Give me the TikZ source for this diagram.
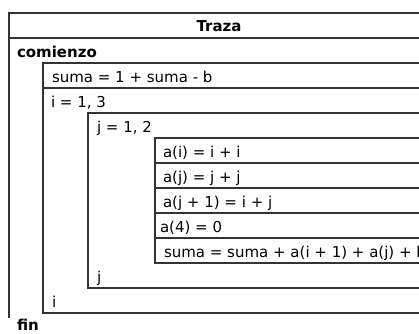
\documentclass[tikz,border=0pt]{standalone}
\usepackage{fontspec}
\setmainfont{DejaVu Sans}
\begin{document}
\begin{tikzpicture}[x=1pt,y=-1pt,
  ln/.style={draw=black!80, line width=1.1pt},
  txt/.style={anchor=base west, inner sep=0pt, outer sep=0pt, text=black, font=\fontsize{15}{18}\selectfont},
  btxt/.style={txt, font=\fontsize{15}{18}\selectfont\bfseries}]
\useasboundingbox (0,0) rectangle (419,333);
\clip (0,0) rectangle (419,333);
\fill[white] (0,0) rectangle (419,333);
% outer frame
\draw[ln] (425,13) -- (9,13) -- (9,318);
\draw[ln] (9,38) -- (425,38);
% suma box and i loop
\draw[ln] (425,63) -- (43,63) -- (43,313) -- (425,313);
\draw[ln] (43,88) -- (425,88);
% j loop
\draw[ln] (425,113) -- (88,113) -- (88,288) -- (425,288);
% inner statements
\draw[ln] (425,138) -- (155,138) -- (155,263) -- (425,263);
\draw[ln] (155,163) -- (425,163);
\draw[ln] (155,188) -- (425,188);
\draw[ln] (155,213) -- (425,213);
\draw[ln] (155,238) -- (425,238);
% texts
\node[btxt, anchor=base] (title) at (219,31) {Traza};
\node[btxt] (com) at (17,57) {comienzo};
\node[txt] (s1) at (52,82) {suma = 1 + suma - b};
\node[txt] (iloop) at (51,107) {i = 1, 3};
\node[txt] (jloop) at (97,132) {j = 1, 2};
\node[txt] (a1) at (163,157) {a(i) = i + i};
\node[txt] (a2) at (163,182) {a(j) = j + j};
\node[txt] (a3) at (163,207) {a(j + 1) = i + j};
\node[txt] (a4) at (160,232) {a(4) = 0};
\node[txt] (s2) at (164,257) {suma = suma + a(i + 1) + a(j) + b};
\node[txt] (jend) at (97,282) {j};
\node[txt] (iend) at (52,307) {i};
\node[btxt] (fin) at (17,330.5) {fin};
\end{tikzpicture}
\end{document}
